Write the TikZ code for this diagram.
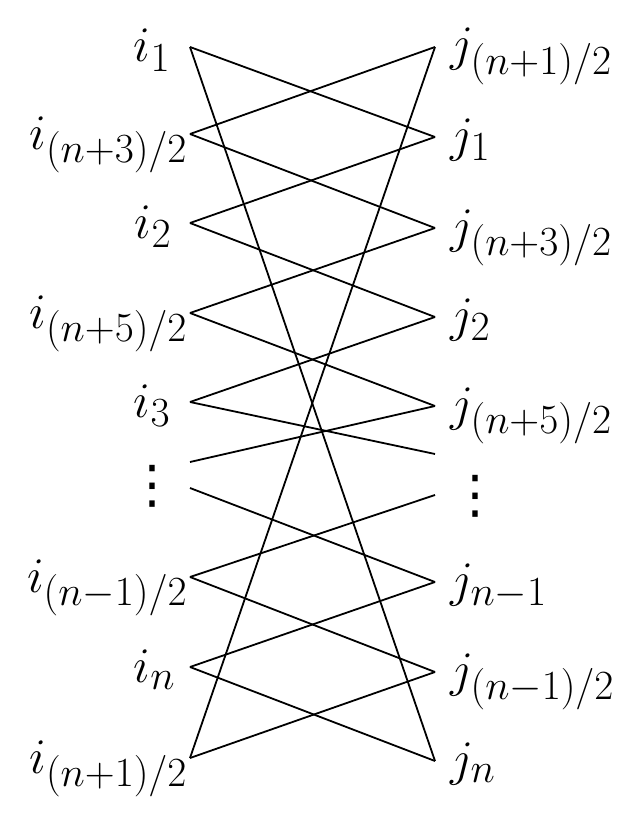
\documentclass[tikz,border=0pt]{standalone}
\usepackage{fontspec}
\newfontfamily\dejavu{DejaVu Sans}
\begin{document}
\begin{tikzpicture}[x=0.5pt,y=-0.5pt,
  edge/.style={line width=0.9pt,black},
  lab/.style={inner sep=0pt,font=\fontsize{29}{32}\selectfont},
  llab/.style={lab,anchor=base east},
  rlab/.style={lab,anchor=base west},
  dotlab/.style={inner sep=0pt,font=\dejavu\fontsize{26}{30}\selectfont}]
\useasboundingbox (0,0) rectangle (640,813);
% left vertices
\coordinate (a1) at (190,47);
\coordinate (a2) at (190,134);
\coordinate (a3) at (190,223);
\coordinate (a4) at (190,313);
\coordinate (a5) at (190,402);
\coordinate (af1) at (190,462);
\coordinate (af2) at (190,488);
\coordinate (a6) at (190,577);
\coordinate (a7) at (190,667);
\coordinate (a8) at (190,758);
% right vertices
\coordinate (b1) at (435,47);
\coordinate (b2) at (435,137);
\coordinate (b3) at (435,228);
\coordinate (b4) at (435,317);
\coordinate (b5) at (435,406);
\coordinate (bf1) at (435,454);
\coordinate (bf2) at (435,495);
\coordinate (b6) at (435,582);
\coordinate (b7) at (435,672);
\coordinate (b8) at (435,761);
% labels
\node[llab] (la1) at (171,62) {$i_1$};
\node[llab] (la2) at (188,149) {$i_{(n+3)/2}$};
\node[llab] (la3) at (172,238) {$i_2$};
\node[llab] (la4) at (188,328) {$i_{(n+5)/2}$};
\node[llab] (la5) at (171,417) {$i_3$};
\node[dotlab] (ldots) at (152,486) {⋮};
\node[llab] (la6) at (188,592) {$i_{(n-1)/2}$};
\node[llab] (la7) at (176,682) {$i_n$};
\node[llab] (la8) at (188,773) {$i_{(n+1)/2}$};
\node[rlab] (lb1) at (450,61) {$j_{(n+1)/2}$};
\node[rlab] (lb2) at (450,151) {$j_1$};
\node[rlab] (lb3) at (450,242) {$j_{(n+3)/2}$};
\node[rlab] (lb4) at (450,331) {$j_2$};
\node[rlab] (lb5) at (450,420) {$j_{(n+5)/2}$};
\node[dotlab] (rdots) at (475,496) {⋮};
\node[rlab] (lb6) at (450,596) {$j_{n-1}$};
\node[rlab] (lb7) at (450,686) {$j_{(n-1)/2}$};
\node[rlab] (lb8) at (450,775) {$j_n$};
% edges
\draw[edge] (a1) -- (b2);
\draw[edge] (a1) -- (b8);
\draw[edge] (b1) -- (a2);
\draw[edge] (b1) -- (a8);
\draw[edge] (a2) -- (b3);
\draw[edge] (b2) -- (a3);
\draw[edge] (a3) -- (b4);
\draw[edge] (b3) -- (a4);
\draw[edge] (a4) -- (b5);
\draw[edge] (b4) -- (a5);
\draw[edge] (a5) -- (bf1);
\draw[edge] (b5) -- (af1);
\draw[edge] (af2) -- (b6);
\draw[edge] (bf2) -- (a6);
\draw[edge] (a6) -- (b7);
\draw[edge] (b6) -- (a7);
\draw[edge] (a7) -- (b8);
\draw[edge] (b7) -- (a8);
\end{tikzpicture}
\end{document}
